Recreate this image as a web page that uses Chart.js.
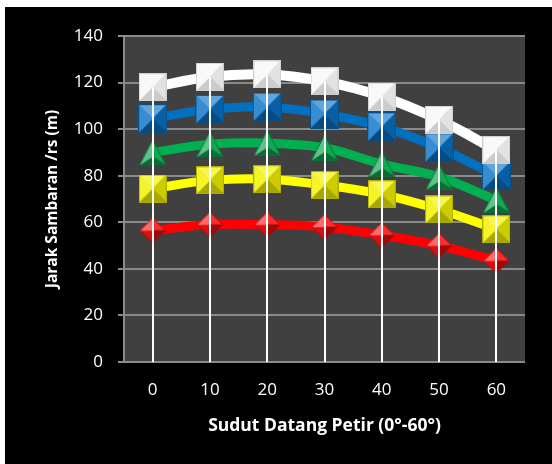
<!DOCTYPE html>
<html>
<head>
<meta charset="utf-8">
<script src="https://cdn.jsdelivr.net/npm/chart.js@4.4.1/dist/chart.umd.min.js"></script>
<style>
  html, body { margin: 0; padding: 0; background: #ffffff; }
  #frame { position: absolute; left: 5px; top: 7px; width: 547px; height: 457px; background: #000000; }
  canvas { display: block; }
</style>
</head>
<body>
<div id="frame"><canvas id="chart" width="547" height="457"></canvas></div>
<script>
// Angle of incidence (degrees) along the category axis
const sudut = ['0', '10', '20', '30', '40', '50', '60'];

// Striking distance (m) for each series
const jarakPutih  = [118, 122.5, 123.5, 120.5, 114, 104, 91];
const jarakBiru   = [104.5, 108.5, 109.5, 106.5, 101, 92, 80];
const jarakHijau  = [90, 93.5, 94, 92, 85, 79.5, 69.5];
const jarakKuning = [74.5, 78, 78.5, 76, 72, 65.5, 57];
const jarakMerah  = [56.5, 59, 59, 58, 54.5, 50, 43.5];

// Value-axis tick labels
const yTicks = [0, 20, 40, 60, 80, 100, 120, 140];

const FONT = "'Open Sans', 'DejaVu Sans', sans-serif";

// Mix a colour toward white (amt > 0) or black (amt < 0)
function shade(hex, amt) {
  const n = [1, 3, 5].map(i => parseInt(hex.slice(i, i + 2), 16));
  const out = n.map(v => amt >= 0 ? Math.round(v + (255 - v) * amt) : Math.round(v * (1 + amt)));
  return 'rgb(' + out.join(',') + ')';
}

// Bevelled marker: each edge face is lit from the upper left
function bevelMarker(pts, w, h, color, k) {
  const c = document.createElement('canvas');
  c.width = w; c.height = h;
  const ctx = c.getContext('2d');
  const cx = pts.reduce((s, p) => s + p[0], 0) / pts.length;
  const cy = pts.reduce((s, p) => s + p[1], 0) / pts.length;
  const L = [-0.45, -0.89];
  for (let i = 0; i < pts.length; i++) {
    const a = pts[i], b = pts[(i + 1) % pts.length];
    let nx = b[1] - a[1], ny = -(b[0] - a[0]);
    const len = Math.hypot(nx, ny);
    nx /= len; ny /= len;
    const mx = (a[0] + b[0]) / 2, my = (a[1] + b[1]) / 2;
    if ((mx - cx) * nx + (my - cy) * ny < 0) { nx = -nx; ny = -ny; }
    const d = nx * L[0] + ny * L[1];
    const fill = shade(color, d * k);
    ctx.beginPath();
    ctx.moveTo(cx, cy); ctx.lineTo(a[0], a[1]); ctx.lineTo(b[0], b[1]); ctx.closePath();
    ctx.fillStyle = fill;
    ctx.fill();
    ctx.strokeStyle = fill;
    ctx.lineWidth = 0.6;
    ctx.stroke();
  }
  ctx.beginPath();
  pts.forEach((p, i) => i ? ctx.lineTo(p[0], p[1]) : ctx.moveTo(p[0], p[1]));
  ctx.closePath();
  ctx.strokeStyle = shade(color, -k * 0.8);
  ctx.lineWidth = 1;
  ctx.stroke();
  return c;
}

function squareMarker(s, color, k) {
  return bevelMarker([[0.5, 0.5], [s - 0.5, 0.5], [s - 0.5, s - 0.5], [0.5, s - 0.5]], s, s, color, k);
}
function diamondMarker(s, color, k) {
  const m = s / 2;
  return bevelMarker([[m, 0.5], [s - 0.5, m], [m, s - 0.5], [0.5, m]], s, s, color, k);
}
function triangleMarker(w, h, color, k) {
  return bevelMarker([[w / 2, 0.5], [w - 0.5, h - 0.5], [0.5, h - 0.5]], w, h, color, k);
}

function series(label, data, color, marker, width) {
  return {
    label, data,
    borderColor: color,
    borderWidth: width,
    tension: 0.35,
    pointStyle: marker,
    pointRadius: 14,
    pointHoverRadius: 14
  };
}

// Plot-area fill behind the grid
const plotBackground = {
  id: 'plotBackground',
  beforeDraw(chart) {
    const { ctx, chartArea: a } = chart;
    ctx.save();
    ctx.fillStyle = '#404040';
    ctx.fillRect(a.left, a.top, a.right - a.left, a.bottom - a.top);
    ctx.restore();
  }
};

// Drop lines from the highest point of each category down to the axis
const dropLines = {
  id: 'dropLines',
  afterDatasetsDraw(chart) {
    const { ctx, chartArea: a, scales: { x, y } } = chart;
    ctx.save();
    ctx.strokeStyle = '#ffffff';
    ctx.lineWidth = 2;
    sudut.forEach((s, i) => {
      const top = Math.max(...chart.data.datasets.map(d => d.data[i]));
      const px = Math.round(x.getPixelForValue(i));
      ctx.beginPath();
      ctx.moveTo(px, y.getPixelForValue(top));
      ctx.lineTo(px, a.bottom);
      ctx.stroke();
    });
    ctx.restore();
  }
};

new Chart(document.getElementById('chart'), {
  type: 'line',
  data: {
    labels: sudut,
    datasets: [
      series('Merah', jarakMerah, '#ff0000', diamondMarker(26, '#ff1010', 0.4), 9),
      series('Kuning', jarakKuning, '#ffff00', squareMarker(28, '#f2f200', 0.35), 9),
      series('Hijau', jarakHijau, '#00b050', triangleMarker(27, 26, '#10a850', 0.4), 9),
      series('Putih', jarakPutih, '#ffffff', squareMarker(28, '#f8f8f8', 0.2), 10),
      series('Biru', jarakBiru, '#0070c0', squareMarker(29, '#0a74c8', 0.4), 9)
    ]
  },
  plugins: [plotBackground, dropLines],
  options: {
    responsive: false,
    animation: false,
    events: [],
    layout: { padding: { top: 29, right: 27, left: 0, bottom: 0 } },
    plugins: { legend: { display: false }, tooltip: { enabled: false } },
    scales: {
      x: {
        type: 'category',
        offset: true,
        grid: { display: false, drawTicks: false },
        border: { display: false },
        ticks: { color: '#ffffff', font: { family: FONT, size: 17 }, padding: 18, maxRotation: 0 },
        title: {
          display: true,
          text: 'Sudut Datang Petir (0°-60°)',
          color: '#ffffff',
          font: { family: FONT, size: 17.5, weight: 'bold' },
          padding: { top: 0, bottom: 27 }
        },
        afterFit(scale) { scale.height = 102; }
      },
      y: {
        min: yTicks[0],
        max: yTicks[yTicks.length - 1],
        afterBuildTicks(scale) { scale.ticks = yTicks.map(v => ({ value: v })); },
        grid: { color: '#8a8a8a', lineWidth: 2, tickLength: 6, drawTicks: true },
        border: { display: true, color: '#8a8a8a', width: 2 },
        ticks: { color: '#ffffff', font: { family: FONT, size: 17 }, padding: 15 },
        title: {
          display: true,
          text: 'Jarak Sambaran /rs (m)',
          color: '#ffffff',
          font: { family: FONT, size: 15.5, weight: 'bold' },
          padding: { top: 38, bottom: 0 }
        },
        afterFit(scale) { scale.width = 119; }
      }
    }
  }
});
</script>
</body>
</html>
